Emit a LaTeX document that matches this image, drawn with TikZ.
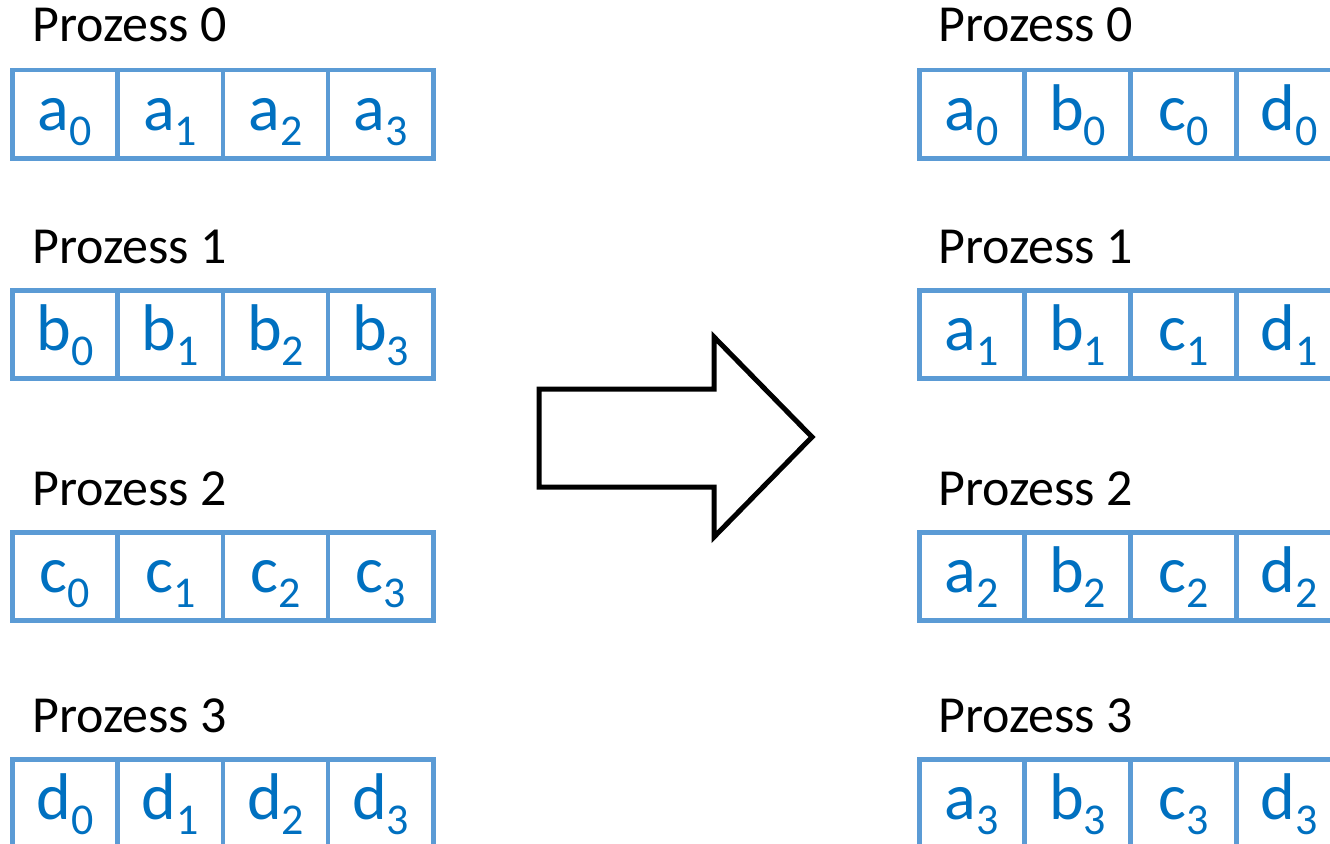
\documentclass[tikz,border=0pt]{standalone}
\usepackage{fontspec}
\setmainfont{Carlito}
\definecolor{cellline}{HTML}{5B9BD5}
\definecolor{celltext}{HTML}{0070C0}
\newcommand{\elem}[2]{{\fontsize{66}{66}\selectfont #1}\raisebox{-15pt}{\fontsize{44}{44}\selectfont #2}}
\begin{document}
\begin{tikzpicture}[x=1pt,y=-1pt,
  cellbox/.style={draw=cellline, line width=4.5pt, rectangle, inner sep=0pt,
    minimum width=105.3pt, minimum height=88pt, text=celltext,
    text height=48pt, text depth=16pt, anchor=north west},
  proclabel/.style={anchor=base west, inner sep=0pt, font=\fontsize{52}{52}\selectfont},
  bigarrow/.style={draw=black, line width=5pt, fill=white, line join=miter}]
\useasboundingbox (0,0) rectangle (1330,843);
\clip (0,0) rectangle (1330,843);
% process labels above each row, before and after the exchange
\foreach \r/\base in {0/42, 1/263, 2/505, 3/732} {
  \node[proclabel] (Lp\r) at (32,\base) {Prozess \r};
  \node[proclabel] (Rp\r) at (938,\base) {Prozess \r};
}
% four cells per row: left holds x_0..x_3 of one process, right holds a_r..d_r
\foreach \r/\top in {0/68, 1/288, 2/530, 3/757} {
  \foreach \c/\l in {0/a, 1/b, 2/c, 3/d} {
    \pgfmathsetmacro{\lx}{10+105.3*\c}
    \pgfmathsetmacro{\rx}{917+105.7*\c}
    \pgfmathtruncatemacro{\rr}{\r}
    \ifcase\rr \def\ll{a}\or \def\ll{b}\or \def\ll{c}\or \def\ll{d}\fi
    \node[cellbox] (L\r c\c) at (\lx,\top) {\elem{\ll}{\c}};
    \node[cellbox] (R\r c\c) at (\rx,\top) {\elem{\l}{\r}};
  }
}
% block arrow between the two columns
\draw[bigarrow] (539,389) -- (714,389) -- (714,337) -- (812,437)
  -- (714,537) -- (714,487) -- (539,487) -- cycle;
\end{tikzpicture}
\end{document}
